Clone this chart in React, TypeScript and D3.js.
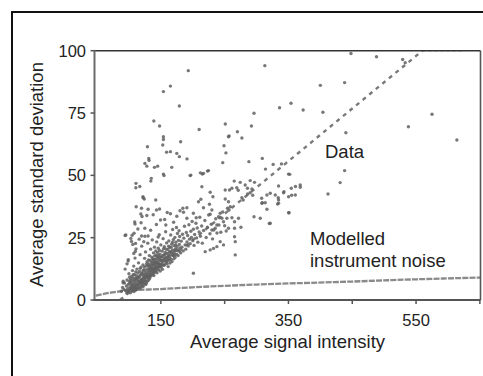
import React from "react";
import * as d3 from "d3";

const xTickValues = [150, 250, 350, 450, 550, 650];
const xTickLabels = ["150", "", "350", "", "550", ""];
const yTickValues = [0, 25, 50, 75, 100];
const yTickLabels = ["0", "25", "50", "75", "100"];

const xTitle = "Average signal intensity";
const yTitle = "Average standard deviation";
const dataLabel = "Data";
const noiseLabel1 = "Modelled";
const noiseLabel2 = "instrument noise";

// dashed "Data" trend line
const dataLineX = [86, 560];
const dataLineY = [0, 100];
const dataTopX = [560, 625];
const dataTopY = [100, 100];

// modelled instrument noise curve
const noiseX = [48, 70, 95, 150, 200, 300, 450, 550, 651];
const noiseY = [1.8, 2.9, 3.7, 4.4, 5.1, 6.2, 7.4, 8.3, 9.0];

// scatter points (intensity, sd)
const sparsePts: [number, number][] = [
  [193, 92], [154, 83.6], [165, 85.8], [179, 77.8], [139, 71.8], [148, 69.8], [129, 61.5], [154, 65.5], [154, 64.4], [153, 62.2],
  [159, 59.3], [165, 59.5], [181, 63.5], [175, 58.8], [179, 57.5], [131, 56.8], [131.5, 56], [125, 54.8], [128, 53.7], [140, 53.2],
  [145, 53.7], [167, 53.2], [154, 50.5], [191, 56.6], [210, 68.4], [197, 50.1], [215, 50.5], [223, 51.7], [135, 48.8], [111, 46.8],
  [117, 45.5], [122, 41.4], [124, 40.5], [94, 25.9],
  [251, 70.6], [256, 65.5], [257, 65.8], [249, 61.9], [252, 59], [247, 55.1], [270, 67.5], [277, 65], [292, 69.8], [296, 74.9],
  [313, 94], [288, 55.5], [309, 56.8], [314, 52.5], [326, 54.4], [336, 77.1], [354, 78.9], [373, 76.2], [400, 86.1], [404, 75.3],
  [438, 87.2], [440, 67.1], [438, 51.9], [431, 47.1], [412, 42.5], [448, 98.9], [488, 97.6], [529, 96.5], [533, 95.2], [538, 69.5],
  [575, 74.5], [614, 64.2], [352, 50.4], [339, 54.6], [350, 50.5], [361, 45.5], [368.5, 46.1], [368.5, 45.2], [351, 35], [320, 30.7],
  [296, 33.4], [309, 39], [308, 40.8], [334, 41], [334.5, 45.7], [343, 43.4], [333, 38.5], [355, 42], [354.4, 44.8], [360.7, 42.1],
  [350.2, 41.4], [342.3, 43], [329.3, 42.1], [334.5, 40.1], [334.5, 38.8], [321.5, 42.8], [316.3, 42.1], [308.4, 38.8], [313.6, 39],
  [316.3, 36.4], [305.8, 32.8], [321.5, 30.8], [350.2, 35], [290, 43], [294, 42], [286, 42.5], [224.7, 51.9], [216.8, 50.8], [212, 51]
];

const midPts: [number, number][] = [
  [195.9, 49.9], [214.3, 45.4], [227.3, 43.2], [231.6, 41.4], [250.9, 44.1], [257.6, 44.1], [261.4, 44.8], [265, 47.7], [274.4, 47.2],
  [282.2, 46.1], [290, 47.9], [296.8, 47.2], [285.8, 44.8], [292.7, 44.5], [271.3, 44], [269, 45], [250.9, 40.5], [256, 39.4],
  [254.5, 36.8], [256.9, 36.1], [258.8, 37.4], [277, 41], [279, 40.1], [184.5, 36.8], [190.8, 37], [185.5, 35.2], [190.8, 32.8],
  [209, 39.4], [212.7, 40.4], [216.8, 37], [226.2, 38.4], [230, 36.1], [227.3, 34.4], [201, 34.8], [205.4, 33], [243, 34.8],
  [240.4, 33.4], [245.7, 32.8], [248.2, 31.4], [253.5, 32.8], [261.4, 33], [265.5, 31.4], [271.7, 32.8], [275.5, 29.2], [265.5, 28.8],
  [256, 28.8], [252.4, 27.7], [237.8, 30.1], [235.2, 28.8], [230, 28.1], [265.5, 25.4], [266.6, 23.4], [266.6, 18.1], [243, 23.4],
  [248.2, 22.1], [237.8, 21.4], [232.5, 20.7], [227.3, 20.1], [219.5, 19.4], [201, 10.7],
  [110.8, 45], [134.3, 47.7], [155, 49.9], [122.2, 41], [142, 40.1], [111.3, 37.4], [119.7, 36.8], [118.6, 34.5], [120.5, 33.5],
  [143.2, 36.1], [109, 31.3], [109.5, 30.5], [149.5, 32.1], [157.8, 30.1], [124.9, 28.8], [95.1, 26.1], [105, 26], [104, 23.5],
  [119.7, 25.7], [130, 25.7], [110.3, 22.7], [111, 20.5], [123.3, 23.4], [145.8, 25.3], [107.6, 18.7], [98.7, 15.6], [90.9, 6.9]
];

const clusterPts: [number, number][] = [
  [88, 3.5], [90, 5], [92, 4.2], [93, 6.8], [95, 3.8], [96, 5.6], [97, 8], [98, 4.5], [99, 6.2], [100, 10.5], [94, 12.4], [97, 14.5], [99, 16.2], [91, 7.5],
  [101, 3.9], [101.5, 5.1], [102, 6.6], [102.5, 8.2], [103, 4.4], [103.5, 7.1], [104, 9.4], [104.5, 5.7], [105, 3.6], [105.5, 11.8], [106, 6.3],
  [106.5, 8.8], [107, 4.9], [107.5, 13.6], [108, 7.4], [108.5, 10.2], [109, 5.5], [109.5, 16.8], [110, 8.6], [110, 19.5], [106, 22.3], [103, 24.7], [108, 26.8],
  [110.5, 4.8], [111, 6.9], [111.5, 9.7], [112, 5.9], [112.5, 12.4], [113, 7.8], [113.5, 4.3], [114, 10.8], [114.5, 6.4], [115, 14.9], [115.5, 8.9],
  [116, 5.2], [116.5, 11.5], [117, 7.3], [117.5, 18.2], [118, 9.9], [118.5, 6.1], [119, 13.2], [119.5, 8.1], [120, 21.6], [116, 24.4], [114, 28.5], [119, 31],
  [120.5, 5.6], [121, 10.6], [121.5, 7.2], [122, 14.1], [122.5, 8.7], [123, 6.3], [123.5, 12.2], [124, 9.4], [124.5, 16.7], [125, 7.7], [125.5, 11.1],
  [126, 19.3], [126.5, 8.9], [127, 13.7], [127.5, 6.8], [128, 10.4], [128.5, 15.4], [129, 9.2], [129.5, 22.8], [130, 12.6], [125, 25.6], [128, 33.9], [130, 36.4],
  [130.5, 7.9], [131, 14.5], [131.5, 10.1], [132, 17.8], [132.5, 8.6], [133, 12.9], [133.5, 11.4], [134, 20.4], [134.5, 9.6], [135, 15.2], [135.5, 13.3],
  [136, 10.7], [136.5, 24.1], [137, 16.6], [137.5, 11.9], [138, 14], [138.5, 18.9], [139, 9.8], [139.5, 12.8], [140, 21.2], [134, 28], [138, 34.2],
  [140.5, 13.9], [141, 11.2], [141.5, 16.2], [142, 19.7], [142.5, 12.5], [143, 15.1], [143.5, 23.3], [144, 10.9], [144.5, 17.4], [145, 13.6], [145.5, 14.8],
  [146, 20.8], [146.5, 12.1], [147, 16.9], [147.5, 26.2], [148, 14.4], [148.5, 18.4], [149, 11.6], [149.5, 15.8], [150, 22.1], [143, 30.3], [148, 36.5],
  [150.5, 13.1], [151, 17.3], [151.5, 14.7], [152, 19.6], [152.5, 12.3], [153, 16.1], [153.5, 24.6], [154, 15.5], [154.5, 18.1], [155, 13.9], [155.5, 21.4],
  [156, 16.4], [156.5, 14.2], [157, 19.1], [157.5, 27.4], [158, 17.2], [158.5, 15.1], [159, 22.9], [159.5, 18.7], [160, 14.6], [156, 32.3], [160, 35.1],
  [160.5, 16.8], [161, 20.3], [161.5, 13.4], [162, 18.2], [162.5, 23.7], [163, 15.9], [163.5, 17.6], [164, 21.1], [164.5, 14.8], [165, 19.4], [165.5, 26.1],
  [166, 16.3], [166.5, 18.8], [167, 22.4], [167.5, 15.4], [168, 20.1], [168.5, 28.3], [169, 17.9], [169.5, 24.2], [170, 19.2], [165, 34.6], [170, 31.2],
  [170.5, 16.5], [171, 21.8], [171.5, 18.5], [172, 25.1], [172.5, 17.1], [173, 20.6], [173.5, 23.2], [174, 19.8], [174.5, 29.1], [175, 18.3], [175.5, 21.5],
  [176, 26.7], [176.5, 20.2], [177, 17.8], [177.5, 23.9], [178, 19.6], [178.5, 27.8], [179, 22.3], [179.5, 25.5], [180, 20.9], [175, 33.6], [180, 35.8],
  [181, 18.9], [182, 23.6], [183, 21.2], [184, 26.4], [185, 19.7], [186, 24.8], [187, 29.6], [188, 22.1], [189, 20.4], [190, 27.1], [191, 23.3],
  [192, 25.9], [193, 21.7], [194, 30.2], [195, 24.4],
  [196, 22.6], [197, 27.6], [198, 25.1], [199, 31.5], [200, 23.8], [201, 28.4], [202, 21.9], [203, 26.3], [205, 30.8], [206, 24.9], [207, 28.9],
  [208, 23.2], [210, 27.3], [211, 33.2], [212, 25.6], [214, 29.7], [215, 22.8],
  [217, 27.9], [219, 31.9], [221, 25.1], [223, 29.2], [225, 34.1], [227, 26.6], [229, 30.4], [231, 24.5], [233, 28.1], [236, 32.6], [238, 26.9],
  [241, 30.1], [244, 27.2], [247, 35.3], [250, 29.8]
];

// extra points filling the densest core of the cloud
const corePts: [number, number][] = [
  [96.5, 2.8], [98.5, 3.3], [100.5, 7.4], [101, 9.1], [102.3, 2.9], [103.8, 5.2], [104.7, 7.9], [105.8, 4.6], [106.7, 10.1], [107.8, 3.4],
  [108.3, 6.2], [109.2, 8.1], [110.2, 3.9], [110.8, 11.3], [111.6, 4.6], [112.3, 8.6], [113.2, 6.1], [113.8, 9.1], [114.8, 5.1], [115.3, 7.6],
  [116.3, 9.4], [116.8, 6.7], [117.6, 12.7], [118.2, 4.8], [118.8, 7.9], [119.6, 10.6], [120.2, 6.9], [120.8, 8.4], [121.8, 11.7], [122.2, 5.4],
  [122.8, 9.8], [123.7, 7.1], [124.3, 13.3], [124.8, 8.1], [125.7, 10.2], [126.2, 6.2], [126.8, 12.1], [127.3, 9.6], [127.8, 14.6], [128.8, 7.6],
  [129.3, 11.2], [129.8, 13.8], [130.3, 9.4], [130.8, 16.1], [131.3, 11.9], [131.8, 8.9], [132.3, 13.6], [132.8, 10.6], [133.3, 15.9], [133.8, 12.3],
  [134.3, 9.9], [134.8, 14.1], [135.3, 11.8], [135.8, 17.2], [136.3, 12.7], [136.8, 14.6], [137.3, 10.2], [137.8, 15.6], [138.3, 12.2], [138.8, 16.3],
  [139.3, 11.1], [139.8, 14.9], [140.3, 17.6], [140.8, 12.6], [141.3, 15.1], [141.8, 13.2], [142.3, 18.1], [142.8, 14.3], [143.3, 11.9], [143.8, 16.6],
  [144.3, 13.1], [144.8, 19.1], [145.3, 15.6], [145.8, 12.9], [146.3, 17.9], [146.8, 14.6], [147.3, 13.4], [147.8, 19.9], [148.3, 16.2], [148.8, 13.9],
  [149.3, 17.1], [149.8, 14.2], [151.2, 15.8], [152.2, 17.7], [153.2, 14.1], [154.2, 20.6], [155.2, 16.9], [156.2, 18.3], [157.2, 15.7], [158.2, 20.4],
  [159.2, 16.3], [161.2, 17.4], [162.2, 21.6], [163.2, 19.3], [164.2, 16.8], [166.2, 21.2], [167.2, 18.1], [168.2, 23.1], [171.2, 19.9], [173.2, 22.1]
];

const W = 483;
const H = 376;
const FONT = "Arial, 'Liberation Sans', Helvetica, sans-serif";

export default function App() {
  const x = d3.scaleLinear().domain([46, 651]).range([94.5, 480.5]);
  const y = d3.scaleLinear().domain([0, 100]).range([300, 50.7]);
  const left = x.range()[0];
  const right = x.range()[1];
  const top = y.range()[1];
  const bottom = y.range()[0];

  const mk = (xs: number[], ys: number[]) =>
    d3
      .line<number>()
      .x((v) => x(v))
      .y((_, i) => y(ys[i]))
      .curve(d3.curveMonotoneX)(xs) as string;

  const allPts = [...sparsePts, ...midPts, ...clusterPts, ...corePts];

  return (
    <div style={{ position: "absolute", left: 0, top: 0 }}>
      <svg width={W} height={H} style={{ display: "block", background: "#fff" }}>
        <rect x={12} y={12} width={490} height={420} fill="#fff" stroke="#111" strokeWidth={2} />

        {/* curves */}
        <path d={mk(noiseX, noiseY)} fill="none" stroke="#8a8a8a" strokeWidth={2.3} strokeDasharray="6,1.2" />
        <path d={mk(dataLineX, dataLineY)} fill="none" stroke="#7a7a7a" strokeWidth={2.4} strokeDasharray="4,4.5" />
        <path d={mk(dataTopX, dataTopY)} fill="none" stroke="#aaa" strokeWidth={1.6} strokeDasharray="3,3" />

        {/* points */}
        {allPts.map((p, i) => (
          <circle key={i} cx={x(p[0])} cy={y(p[1])} r={1.7} fill="#606060" fillOpacity={0.85} />
        ))}

        {/* frame */}
        <line x1={left} y1={top} x2={right} y2={top} stroke="#333" strokeWidth={1.6} />
        <line x1={right} y1={top} x2={right} y2={bottom} stroke="#555" strokeWidth={1.6} />
        <line x1={left} y1={top - 0.8} x2={left} y2={bottom + 1} stroke="#6a6a6a" strokeWidth={2} />
        <line x1={left - 1} y1={bottom} x2={right} y2={bottom} stroke="#555" strokeWidth={2} />

        {/* y ticks */}
        {yTickValues.map((v, i) => (
          <g key={"y" + i}>
            <line x1={left - 4} x2={left} y1={y(v)} y2={y(v)} stroke="#555" strokeWidth={1.5} />
            <text x={86} y={y(v)} dy="0.36em" textAnchor="end" fontFamily={FONT} fontSize={16.5} fill="#222">
              {yTickLabels[i]}
            </text>
          </g>
        ))}

        {/* x ticks */}
        {xTickValues.map((v, i) => (
          <g key={"x" + i}>
            <line x1={x(v)} x2={x(v)} y1={bottom} y2={bottom + 4} stroke="#555" strokeWidth={1.5} />
            <text x={x(v)} y={326} textAnchor="middle" fontFamily={FONT} fontSize={16.5} fill="#222">
              {xTickLabels[i]}
            </text>
          </g>
        ))}

        {/* titles */}
        <text x={287.5} y={348} textAnchor="middle" fontFamily={FONT} fontSize={18.5} fill="#222">
          {xTitle}
        </text>
        <text
          transform="translate(42.5,174.5) rotate(-90)"
          textAnchor="middle"
          fontFamily={FONT}
          fontSize={18.5}
          fill="#222"
        >
          {yTitle}
        </text>

        {/* annotations */}
        <text x={325} y={158.3} fontFamily={FONT} fontSize={18.5} fill="#222">
          {dataLabel}
        </text>
        <text x={310} y={245} fontFamily={FONT} fontSize={18.5} fill="#222">
          {noiseLabel1}
        </text>
        <text x={310} y={266.7} fontFamily={FONT} fontSize={18.5} fill="#222">
          {noiseLabel2}
        </text>
      </svg>
    </div>
  );
}
